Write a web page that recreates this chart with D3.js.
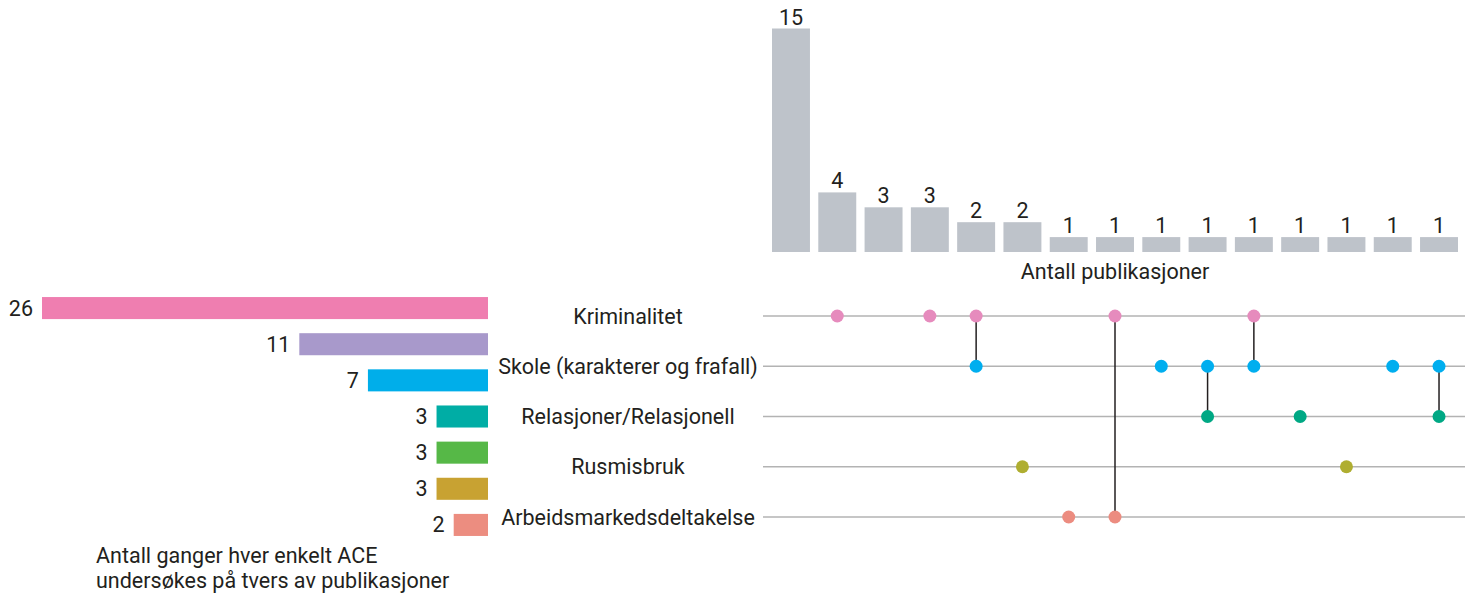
<!DOCTYPE html>
<html>
<head>
<meta charset="utf-8">
<script src="https://cdn.jsdelivr.net/npm/d3@7"></script>
<style>
  body { margin: 0; background: #fff; }
  text { font-family: Roboto, "Noto Sans", sans-serif; fill: #231f20; }
</style>
</head>
<body>
<script>
// how many times each ACE is studied (left bars)
var aceCounts = [26, 11, 7, 3, 3, 3, 2];
var aceColors = ["#ef7eb0", "#a899cb", "#00aeea", "#00ada5", "#56b847", "#c8a232", "#ec8d80"];

// outcome rows of the matrix
var outcomes = ["Kriminalitet", "Skole (karakterer og frafall)", "Relasjoner/Relasjonell", "Rusmisbruk", "Arbeidsmarkedsdeltakelse"];
var outcomeColors = ["#e68bbd", "#00aeef", "#00a884", "#afae31", "#ec8c80"];

// publications per combination (top bars) and which outcomes each combination has
var pubCounts = [15, 4, 3, 3, 2, 2, 1, 1, 1, 1, 1, 1, 1, 1, 1];
var combos = [
  [],
  ["Kriminalitet"],
  [],
  ["Kriminalitet"],
  ["Kriminalitet", "Skole (karakterer og frafall)"],
  ["Rusmisbruk"],
  ["Arbeidsmarkedsdeltakelse"],
  ["Kriminalitet", "Arbeidsmarkedsdeltakelse"],
  ["Skole (karakterer og frafall)"],
  ["Skole (karakterer og frafall)", "Relasjoner/Relasjonell"],
  ["Kriminalitet", "Skole (karakterer og frafall)"],
  ["Relasjoner/Relasjonell"],
  ["Rusmisbruk"],
  ["Skole (karakterer og frafall)"],
  ["Skole (karakterer og frafall)", "Relasjoner/Relasjonell"]
];

var topTitle = "Antall publikasjoner";
var leftTitle = ["Antall ganger hver enkelt ACE", "undersøkes på tvers av publikasjoner"];

var width = 1465, height = 596;
var fontSize = "21.5px";

var svg = d3.select("body").append("svg")
  .attr("width", width)
  .attr("height", height);

// ---- top bars: publications per combination
var x = d3.scaleBand()
  .domain(d3.range(pubCounts.length))
  .range([772, 1458])
  .paddingInner(0.18)
  .paddingOuter(0);

var yTop = d3.scaleLinear()
  .domain([0, 15])
  .range([252, 28.5]);

var topBars = svg.append("g");

topBars.selectAll("rect")
  .data(pubCounts)
  .join("rect")
  .attr("x", function(d, i) { return x(i); })
  .attr("y", function(d) { return yTop(d); })
  .attr("width", x.bandwidth())
  .attr("height", function(d) { return yTop(0) - yTop(d); })
  .attr("fill", "#bec3ca");

topBars.selectAll("text")
  .data(pubCounts)
  .join("text")
  .attr("x", function(d, i) { return x(i) + x.bandwidth() / 2; })
  .attr("y", function(d) { return yTop(d) - 4; })
  .attr("text-anchor", "middle")
  .style("font-size", fontSize)
  .text(function(d) { return d; });

svg.append("text")
  .attr("x", (x.range()[0] + x.range()[1]) / 2)
  .attr("y", 279)
  .attr("text-anchor", "middle")
  .style("font-size", fontSize)
  .text(topTitle);

// ---- matrix
var yRow = d3.scalePoint()
  .domain(outcomes)
  .range([316, 517]);

var matrix = svg.append("g");

matrix.selectAll("line.row")
  .data(outcomes)
  .join("line")
  .attr("class", "row")
  .attr("x1", 763)
  .attr("x2", width)
  .attr("y1", function(d) { return yRow(d); })
  .attr("y2", function(d) { return yRow(d); })
  .attr("stroke", "#b3b3b3")
  .attr("stroke-width", 1.5);

matrix.selectAll("text")
  .data(outcomes)
  .join("text")
  .attr("x", 628)
  .attr("y", function(d) { return yRow(d); })
  .attr("dy", "0.35em")
  .attr("text-anchor", "middle")
  .style("font-size", fontSize)
  .text(function(d) { return d; });

// connectors between dots of the same combination
var linked = combos.map(function(c, i) { return { i: i, sets: c }; })
  .filter(function(c) { return c.sets.length > 1; });

matrix.selectAll("line.link")
  .data(linked)
  .join("line")
  .attr("class", "link")
  .attr("x1", function(d) { return x(d.i) + x.bandwidth() / 2; })
  .attr("x2", function(d) { return x(d.i) + x.bandwidth() / 2; })
  .attr("y1", function(d) { return d3.min(d.sets, function(s) { return yRow(s); }); })
  .attr("y2", function(d) { return d3.max(d.sets, function(s) { return yRow(s); }); })
  .attr("stroke", "#231f20")
  .attr("stroke-width", 1.5);

var dots = [];
combos.forEach(function(c, i) {
  c.forEach(function(s) { dots.push({ i: i, set: s }); });
});

matrix.selectAll("circle")
  .data(dots)
  .join("circle")
  .attr("cx", function(d) { return x(d.i) + x.bandwidth() / 2; })
  .attr("cy", function(d) { return yRow(d.set); })
  .attr("r", 6.5)
  .attr("fill", function(d) { return outcomeColors[outcomes.indexOf(d.set)]; });

// ---- left bars: how often each ACE is studied
var xLeft = d3.scaleLinear()
  .domain([0, 26])
  .range([488, 42]);

var yLeft = d3.scaleBand()
  .domain(d3.range(aceCounts.length))
  .range([290, 543])
  .paddingInner(0.39)
  .paddingOuter(0.195);

var leftBars = svg.append("g");

leftBars.selectAll("rect")
  .data(aceCounts)
  .join("rect")
  .attr("x", function(d) { return xLeft(d); })
  .attr("y", function(d, i) { return yLeft(i); })
  .attr("width", function(d) { return xLeft(0) - xLeft(d); })
  .attr("height", yLeft.bandwidth())
  .attr("fill", function(d, i) { return aceColors[i]; });

leftBars.selectAll("text")
  .data(aceCounts)
  .join("text")
  .attr("x", function(d) { return xLeft(d) - 9; })
  .attr("y", function(d, i) { return yLeft(i) + yLeft.bandwidth() / 2; })
  .attr("dy", "0.35em")
  .attr("text-anchor", "end")
  .style("font-size", fontSize)
  .text(function(d) { return d; });

svg.append("text")
  .attr("x", 96)
  .attr("y", 563)
  .style("font-size", fontSize)
  .selectAll("tspan")
  .data(leftTitle)
  .join("tspan")
  .attr("x", 96)
  .attr("dy", function(d, i) { return i ? 25 : 0; })
  .text(function(d) { return d; });
</script>
</body>
</html>
